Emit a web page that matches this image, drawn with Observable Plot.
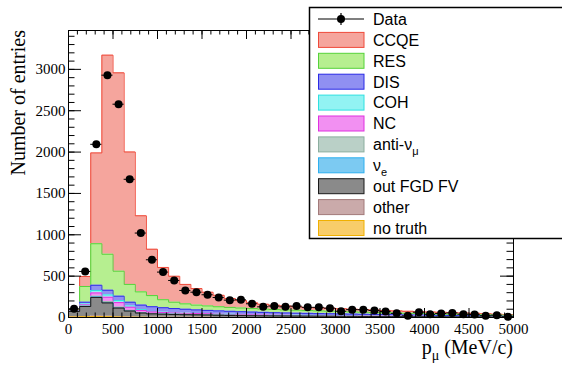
<!DOCTYPE html>
<html><head><meta charset="utf-8">
<script src="https://cdn.jsdelivr.net/npm/d3@7"></script>
<script src="https://cdn.jsdelivr.net/npm/@observablehq/plot@0.6"></script>
<style>html,body{margin:0;padding:0;background:#fff;} svg{display:block;}
svg text.rootlbl{font-family:'Liberation Serif','Times New Roman',serif !important;}</style>
</head><body><div id="chart"></div>
<script>
// ---- data (bins of 125 MeV/c from 0 to 5000) ----
const binEdges = [0,125,250,375,500,625,750,875,1000,1125,1250,1375,1500,1625,1750,1875,2000,2125,2250,2375,2500,2625,2750,2875,3000,3125,3250,3375,3500,3625,3750,3875,4000,4125,4250,4375,4500,4625,4750,4875,5000];
const dataCounts = [105,557,2094,2930,2579,1671,1021,698,549,448,327,306,275,242,210,214,166,129,138,129,138,123,123,113,76,95,95,85,72,50,20,64,38,48,55,40,36,22,28,8];
const ccqe = [5,121,1098,2407,2398,1601,920,560,390,313,235,200,165,138,108,90,70,58,51,48,42,36,35,36,34,32,31,30,28,26,24,22,21,20,18,16,15,13,11,9];
const res = [6,190,502,435,302,215,160,135,97,77,65,58,54,50,47,45,42,40,39,37,36,34,33,31,29,27,25,23,22,21,20,19,18,17,17,17,15,14,13,12];
const dis = [2,23,63,57,53,46,55,56,55,51,47,43,40,38,36,35,33,32,29,28,26,25,24,23,22,20,20,18,18,16,15,14,14,12,11,9,9,7,6,4];
const coh = [1,10,30,28,25,15,10,7,4,3,3,2,2,2,2,2,2,1,1,1,1,1,1,1,1,1,1,1,1,1,1,1,1,1,1,1,1,1,1,1];
const nc = [3,12,40,55,55,38,25,18,15,13,12,11,10,9,8,7,7,6,6,5,5,5,4,4,4,4,3,3,3,3,3,3,2,2,2,2,2,2,2,2];
const antiNumu = [2,5,10,10,8,6,5,4,3,3,3,3,3,3,3,2,2,2,2,2,2,2,2,2,2,2,2,2,2,2,2,1,1,1,1,1,1,1,1,1];
const nue = [1,2,4,4,3,2,1,1,1,1,1,1,1,1,1,1,1,1,1,1,1,1,1,1,1,1,1,1,1,1,1,1,1,1,1,1,1,1,1,1];
const outFGD = [65,120,225,162,105,72,50,42,38,35,32,30,28,26,24,22,20,19,18,17,16,15,14,13,12,12,11,11,10,10,9,9,8,8,7,7,6,6,5,5];
const other = [3,5,8,6,4,3,2,1,1,1,1,1,1,1,1,1,1,1,1,1,1,1,1,1,1,1,1,1,0,0,0,0,0,0,0,0,0,0,0,0];
const noTruth = [5,8,10,8,5,3,2,1,1,1,1,1,1,0,0,0,0,0,0,0,0,0,0,0,0,0,0,0,0,0,0,0,0,0,0,0,0,0,0,0];

const xMajorTicks = [0,500,1000,1500,2000,2500,3000,3500,4000,4500,5000];
const yMajorTicks = [0,500,1000,1500,2000,2500,3000];
const xMinorTicks = d3.range(0, 5001, 100);
const yMinorTicks = d3.range(0, 3401, 100);

// legend order (top of the legend first)
const layers = [
  {key:"CCQE", values:ccqe, fill:"#f5a59d", line:"#ef4a3a"},
  {key:"RES", values:res, fill:"#b6ef90", line:"#55d23a"},
  {key:"DIS", values:dis, fill:"#9090f2", line:"#2a2ae6"},
  {key:"COH", values:coh, fill:"#92f3f3", line:"#2fe0e0"},
  {key:"NC", values:nc, fill:"#f290f2", line:"#e030e0"},
  {key:"anti", values:antiNumu, fill:"#bad0c7", line:"#8cae9f"},
  {key:"nue", values:nue, fill:"#7ccaf2", line:"#2eb0ef"},
  {key:"out FGD FV", values:outFGD, fill:"#8a8a8a", line:"#1a1a1a"},
  {key:"other", values:other, fill:"#caaaaa", line:"#a27a7a"},
  {key:"no truth", values:noTruth, fill:"#f8cd6a", line:"#f0b000"}
];

// stack from bottom (last legend entry) to top
const nb = dataCounts.length;
const base = new Array(nb).fill(0);
const stacked = [];
for (let i = layers.length - 1; i >= 0; i--) {
  const L = layers[i];
  const rows = binEdges.map((e, k) => {
    const j = Math.min(k, nb - 1);
    return {x: e, y1: base[j], y2: base[j] + L.values[j]};
  });
  for (let j = 0; j < nb; j++) base[j] += L.values[j];
  stacked.unshift({L, rows});
}

const points = dataCounts.map((n, k) => ({lo: binEdges[k], hi: binEdges[k+1], c: (binEdges[k] + binEdges[k+1]) / 2, n}));

const W = 562, H = 365, mL = 68, mR = 49, mT = 30, mB = 48;
const pw = W - mL - mR, ph = H - mT - mB;
const serif = "'Liberation Serif', 'Times New Roman', serif";
const sans = "'Liberation Sans', Arial, Helvetica, sans-serif";

const marks = [];
for (const {L, rows} of stacked) {
  marks.push(Plot.areaY(rows, {x:"x", y1:"y1", y2:"y2", fill:L.fill, curve:"step-after"}));
  marks.push(Plot.line(rows, {x:"x", y:"y2", stroke:L.line, strokeWidth:1, curve:"step-after"}));
}
marks.push(
  Plot.ruleY(points, {x1:"lo", x2:"hi", y:"n", stroke:"black", strokeWidth:1}),
  Plot.dot(points, {x:"c", y:"n", r:4, fill:"black", stroke:"none"}),
  Plot.frame({stroke:"black", strokeWidth:1}),
  Plot.ruleX(xMajorTicks, {stroke:"black", insetTop: ph - 9}),
  Plot.ruleX(xMinorTicks, {stroke:"black", insetTop: ph - 4.5}),
  Plot.ruleX(xMajorTicks, {stroke:"black", insetBottom: ph - 9}),
  Plot.ruleX(xMinorTicks, {stroke:"black", insetBottom: ph - 4.5}),
  Plot.ruleY(yMajorTicks, {stroke:"black", insetRight: pw - 13}),
  Plot.ruleY(yMinorTicks, {stroke:"black", insetRight: pw - 6.5}),
  Plot.ruleY(yMajorTicks, {stroke:"black", insetLeft: pw - 13}),
  Plot.ruleY(yMinorTicks, {stroke:"black", insetLeft: pw - 6.5}),
  Plot.axisX({ticks: xMajorTicks, tickSize: 0, tickPadding: 6, tickFormat: "d", label: null, fontSize: 15, fontFamily: serif}),
  Plot.axisY({ticks: yMajorTicks, tickSize: 0, tickPadding: 3, tickFormat: "d", label: null, fontSize: 15, fontFamily: serif})
);

const chart = Plot.plot({
  width: W, height: H,
  marginLeft: mL, marginRight: mR, marginTop: mT, marginBottom: mB,
  style: {fontFamily: serif, fontSize: "15px", background: "white", color: "black"},
  x: {domain: [0, 5000]},
  y: {domain: [0, 3470]},
  marks
});
document.getElementById("chart").appendChild(chart);

const svg = d3.select(chart);
// force serif on every text Plot drew (ROOT Times style)
svg.selectAll("text").classed("rootlbl", true).attr("font-family", serif).style("font-family", serif);

// ---- titles ----
svg.append("text").attr("class", "rootlbl")
  .attr("transform", `translate(25,${mT}) rotate(-90)`)
  .attr("text-anchor", "end")
  .attr("font-family", serif).attr("font-size", 20).attr("fill", "black")
  .text("Number of entries");
const xt = svg.append("text").attr("class", "rootlbl")
  .attr("x", W - mR).attr("y", 354)
  .attr("text-anchor", "end")
  .attr("font-family", serif).attr("font-size", 20).attr("fill", "black");
xt.append("tspan").text("p");
xt.append("tspan").attr("dy", 6).attr("font-size", 14).text("μ");
xt.append("tspan").attr("dy", -6).text(" (MeV/c)");

// ---- legend ----
const lg = svg.append("g").attr("font-family", sans).attr("font-size", 16).attr("text-anchor", "start").attr("fill", "black");
lg.append("rect").attr("x", 309.5).attr("y", 7.5).attr("width", 300).attr("height", 231)
  .attr("fill", "white").attr("stroke", "black").attr("stroke-width", 1.5);
const rowY = i => 19 + i * 20.9;
// Data entry
lg.append("line").attr("x1", 318).attr("x2", 364).attr("y1", rowY(0)).attr("y2", rowY(0)).attr("stroke", "black").attr("stroke-width", 1.2);
lg.append("line").attr("x1", 341).attr("x2", 341).attr("y1", rowY(0) - 6).attr("y2", rowY(0) + 6).attr("stroke", "black").attr("stroke-width", 1.2);
lg.append("circle").attr("cx", 341).attr("cy", rowY(0)).attr("r", 4).attr("fill", "black");
lg.append("text").attr("x", 373).attr("y", rowY(0) + 5.8).text("Data");
layers.forEach((L, i) => {
  const cy = rowY(i + 1);
  lg.append("rect").attr("x", 318.5).attr("y", cy - 7.5).attr("width", 45.5).attr("height", 15)
    .attr("fill", L.fill).attr("stroke", L.line).attr("stroke-width", 1);
  const t = lg.append("text").attr("x", 373).attr("y", cy + 5.8);
  if (L.key === "anti") {
    t.append("tspan").text("anti-ν");
    t.append("tspan").attr("dy", 5).attr("font-size", 11).text("μ");
  } else if (L.key === "nue") {
    t.append("tspan").text("ν");
    t.append("tspan").attr("dy", 5).attr("font-size", 11).text("e");
  } else {
    t.text(L.key);
  }
});
</script>
</body></html>
